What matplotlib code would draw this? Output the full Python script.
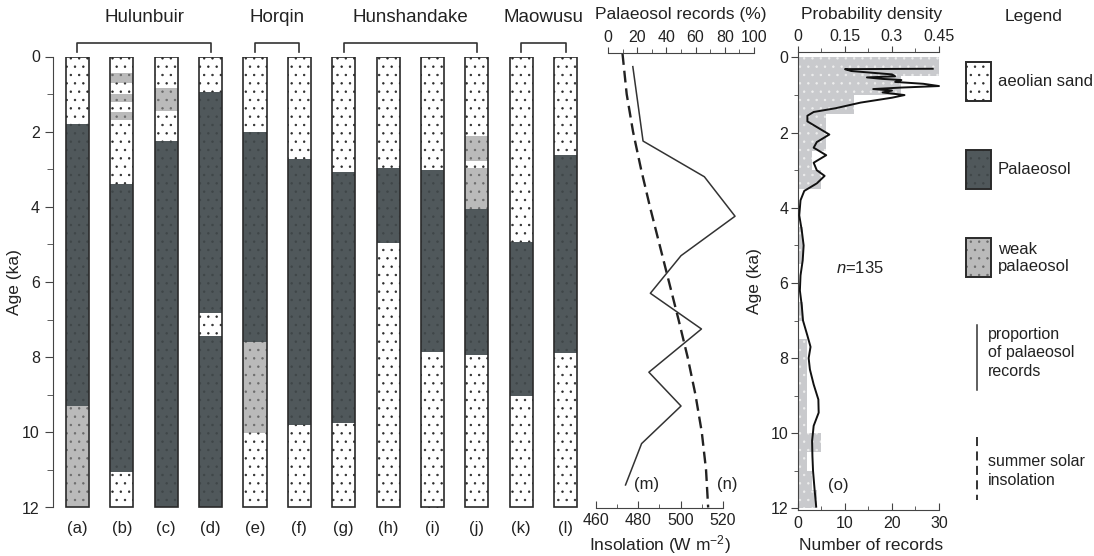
import numpy as np
import matplotlib
matplotlib.use('Agg')
import matplotlib.pyplot as plt
from matplotlib.patches import Rectangle
from matplotlib.lines import Line2D

plt.rcParams['font.family'] = ['Liberation Sans', 'DejaVu Sans']
plt.rcParams['mathtext.fontset'] = 'custom'
plt.rcParams['mathtext.rm'] = 'Liberation Sans'
plt.rcParams['mathtext.it'] = 'Liberation Sans:italic'
plt.rcParams['hatch.linewidth'] = 0.5

# ---- data ----
col_labels = ['(a)', '(b)', '(c)', '(d)', '(e)', '(f)',
              '(g)', '(h)', '(i)', '(j)', '(k)', '(l)']

# each section: (base age in ka, unit) from the top down
sec_a = [(1.8, 'sand'), (9.3, 'soil'), (12, 'weak')]
sec_b = [(0.45, 'sand'), (0.7, 'weak'), (1.0, 'sand'), (1.22, 'weak'),
         (1.48, 'sand'), (1.7, 'weak'), (3.4, 'sand'), (11.05, 'soil'), (12, 'sand')]
sec_c = [(0.85, 'sand'), (1.45, 'weak'), (2.25, 'sand'), (12, 'soil')]
sec_d = [(0.95, 'sand'), (6.82, 'soil'), (7.45, 'sand'), (12, 'soil')]
sec_e = [(2.0, 'sand'), (7.6, 'soil'), (10.03, 'weak'), (12, 'sand')]
sec_f = [(2.72, 'sand'), (9.8, 'soil'), (12, 'sand')]
sec_g = [(3.06, 'sand'), (9.74, 'soil'), (12, 'sand')]
sec_h = [(2.96, 'sand'), (4.97, 'soil'), (12, 'sand')]
sec_i = [(3.03, 'sand'), (7.85, 'soil'), (12, 'sand')]
sec_j = [(2.12, 'sand'), (2.78, 'weak'), (2.98, 'sand'), (4.07, 'weak'),
         (7.95, 'soil'), (12, 'sand')]
sec_k = [(4.94, 'sand'), (9.04, 'soil'), (12, 'sand')]
sec_l = [(2.62, 'sand'), (7.9, 'soil'), (12, 'sand')]
sections = [sec_a, sec_b, sec_c, sec_d, sec_e, sec_f,
            sec_g, sec_h, sec_i, sec_j, sec_k, sec_l]

group_names = ['Hulunbuir', 'Horqin', 'Hunshandake', 'Maowusu']
group_first = [0, 4, 6, 10]
group_last = [3, 5, 9, 11]

# proportion of palaeosol records (%)
pal_age = [0.27, 2.25, 3.2, 4.25, 5.3, 6.3, 7.25, 8.4, 9.3, 10.3, 11.4]
pal_pct = [17, 24, 66, 87, 50, 29, 64, 28, 50, 23, 12]

# summer solar insolation (W m-2)
ins_age = [-0.09, 1, 2, 3, 4, 5, 6, 7, 8, 9, 10, 11, 12]
ins_val = [472.5, 474.5, 477.5, 481.3, 485.5, 490, 494.5, 499, 503.3, 507, 510, 512, 513]

# histogram of records, 0.5 ka bins
hist_top = np.arange(0, 12, 0.5)
hist_cnt = [30, 22, 12, 6, 6, 3, 5, 0, 0, 1, 1, 0,
            0, 1, 0, 2, 2, 2, 2, 2, 5, 2, 3, 4]

# probability density
pdf_age = [0.30, 0.31, 0.36, 0.45, 0.50, 0.53, 0.57, 0.60, 0.65, 0.70, 0.76, 0.80,
           0.84, 0.88, 0.93, 1.00, 1.07, 1.20, 1.35, 1.45, 1.55, 1.70, 1.85, 2.05,
           2.25, 2.40, 2.60, 2.80, 3.00, 3.15, 3.35, 3.55, 3.80, 4.20, 4.60, 5.00,
           5.40, 5.80, 6.20, 6.60, 7.00, 7.40, 7.70, 8.00, 8.30, 8.70, 9.10, 9.45,
           9.80, 10.20, 10.60, 11.00, 11.50, 11.95]
pdf_val = [0.43, 0.15, 0.17, 0.30, 0.31, 0.22, 0.27, 0.33, 0.31, 0.40, 0.45, 0.33,
           0.24, 0.30, 0.27, 0.34, 0.30, 0.20, 0.12, 0.05, 0.03, 0.03, 0.06, 0.10,
           0.06, 0.05, 0.09, 0.05, 0.06, 0.085, 0.06, 0.02, 0.008, 0.004, 0.012, 0.018,
           0.015, 0.008, 0.006, 0.012, 0.016, 0.03, 0.04, 0.034, 0.038, 0.05, 0.065, 0.066,
           0.05, 0.045, 0.046, 0.048, 0.053, 0.058]

# ---- styles ----
face = {'sand': 'white', 'soil': '#50585b', 'weak': '#bababa'}
dots = {'sand': '#2a2a2a', 'soil': '#3f4648', 'weak': '#6a6a6a'}
edge = '#2a2a2a'
txt = '#222222'

W, H = 1094, 556


def box(l, t, r, b):
    return [l / W, 1 - b / H, (r - l) / W, (b - t) / H]


fig = plt.figure(figsize=(W / 100, H / 100), dpi=100)

# ---- stratigraphic columns ----
ax_l = fig.add_axes(box(53, 56.5, 590, 507.5))
ax_l.patch.set_visible(False)
ax_l.set_xlim(-0.552, 11.55)
ax_l.set_ylim(12, 0)
cw = 0.52
for i, sec in enumerate(sections):
    top = 0
    for base, unit in sec:
        ax_l.add_patch(Rectangle((i - cw / 2, top), cw, base - top, facecolor=face[unit],
                                 edgecolor=dots[unit], lw=0, hatch='..'))
        top = base
    ax_l.add_patch(Rectangle((i - cw / 2, 0), cw, 12, fill=False, edgecolor=edge, lw=1.2))
    ax_l.text(i, 12.55, col_labels[i], ha='center', va='center', fontsize=12, color=txt)

for name, a, b in zip(group_names, group_first, group_last):
    ax_l.plot([a, a, b, b], [-0.12, -0.35, -0.35, -0.12], color='#333333', lw=1.2, clip_on=False)
    ax_l.text((a + b) / 2, -1.05, name, ha='center', va='center', fontsize=13.5, color=txt)

for s in ['top', 'right', 'bottom']:
    ax_l.spines[s].set_visible(False)
ax_l.spines['left'].set_bounds(0, 12)
ax_l.spines['left'].set_color('#444444')
ax_l.set_xticks([])
ax_l.set_yticks(range(0, 13, 2))
ax_l.set_yticks(range(1, 12, 2), minor=True)
ax_l.tick_params(axis='y', which='major', direction='out', length=6, labelsize=11.5,
                 colors='#444444', labelcolor=txt)
ax_l.tick_params(axis='y', which='minor', direction='out', length=4, colors='#444444')
ax_l.set_ylabel('Age (ka)', fontsize=12.5, color=txt)
ax_l.yaxis.set_label_coords(-0.058, 0.5)

# ---- palaeosol proportion and insolation ----
ax_m = fig.add_axes(box(580, 53, 760, 507.5))
ax_m.patch.set_visible(False)
ax_m.set_xlim(452.44, 537.5)
ax_m.set_ylim(12, -0.093)
ax_m.plot(ins_val, ins_age, color='#222222', lw=1.7, ls=(0, (5, 2.5)))
ax_p = ax_m.twiny()
ax_p.set_xlim(-19.18, 104.1)
ax_p.plot(pal_pct, pal_age, color='#333333', lw=1.1)
ax_p.text(26.7, 11.4, '(m)', ha='center', va='center', fontsize=12, color=txt)
ax_p.text(82, 11.4, '(n)', ha='center', va='center', fontsize=12, color=txt)

for s in ['left', 'right', 'top']:
    ax_m.spines[s].set_visible(False)
for s in ['left', 'right', 'bottom']:
    ax_p.spines[s].set_visible(False)
ax_m.spines['bottom'].set_bounds(460, 520)
ax_p.spines['top'].set_bounds(0, 100)
ax_m.spines['bottom'].set_color('#444444')
ax_p.spines['top'].set_color('#444444')
ax_m.tick_params(axis='y', left=False, labelleft=False)
ax_m.set_xticks([460, 480, 500, 520])
ax_m.set_xticks([470, 490, 510], minor=True)
ax_m.tick_params(axis='x', which='major', direction='in', length=5, labelsize=11.5,
                 colors='#444444', labelcolor=txt, pad=4)
ax_m.tick_params(axis='x', which='minor', direction='in', length=3, colors='#444444')
ax_p.set_xticks(range(0, 101, 20))
ax_p.set_xticks(range(10, 100, 20), minor=True)
ax_p.tick_params(axis='x', which='major', direction='out', length=4, labelsize=11.5,
                 colors='#444444', labelcolor=txt, pad=2)
ax_p.tick_params(axis='x', which='minor', direction='out', length=3, colors='#444444')

# ---- records histogram and probability density ----
ax_r = fig.add_axes(box(798, 52, 945, 510))
ax_r.patch.set_visible(False)
ax_r.set_xlim(0, 31.28)
ax_r.set_ylim(12.04, -0.146)
ax_r.barh(hist_top, hist_cnt, height=0.5, align='edge', color='#c9cacd',
          edgecolor='#eeeeee', lw=0, hatch='..')
ax_r.text(13.2, 5.6, '$n$=135', ha='center', va='center', fontsize=12, color=txt)
ax_r.text(8.6, 11.4, '(o)', ha='center', va='center', fontsize=12, color=txt)
ax_d = ax_r.twiny()
ax_d.set_xlim(0, 31.28 * 0.015)
ax_d.plot(pdf_val, pdf_age, color='#111111', lw=1.4)

for s in ['right', 'top']:
    ax_r.spines[s].set_visible(False)
for s in ['left', 'right', 'bottom']:
    ax_d.spines[s].set_visible(False)
ax_r.spines['bottom'].set_bounds(0, 30)
ax_d.spines['top'].set_bounds(0, 0.45)
for sp in [ax_r.spines['left'], ax_r.spines['bottom'], ax_d.spines['top']]:
    sp.set_color('#444444')
ax_r.set_yticks(range(0, 13, 2))
ax_r.set_yticks(range(1, 12, 2), minor=True)
ax_r.tick_params(axis='y', which='major', direction='out', length=5, labelsize=11.5,
                 colors='#444444', labelcolor=txt, pad=2)
ax_r.tick_params(axis='y', which='minor', direction='out', length=3, colors='#444444')
ax_r.set_ylabel('Age (ka)', fontsize=12.5, color=txt)
ax_r.yaxis.set_label_coords(-0.245, 0.5)
ax_r.set_xticks([0, 10, 20, 30])
ax_r.set_xticks([5, 15, 25], minor=True)
ax_r.tick_params(axis='x', which='major', direction='in', length=5, labelsize=11.5,
                 colors='#444444', labelcolor=txt, pad=4)
ax_r.tick_params(axis='x', which='minor', direction='in', length=3, colors='#444444')
ax_d.set_xticks([0, 0.15, 0.3, 0.45])
ax_d.set_xticklabels(['0', '0.15', '0.3', '0.45'])
ax_d.set_xticks([0.075, 0.225, 0.375], minor=True)
ax_d.tick_params(axis='x', which='major', direction='out', length=4, labelsize=11.5,
                 colors='#444444', labelcolor=txt, pad=2)
ax_d.tick_params(axis='x', which='minor', direction='out', length=3, colors='#444444')

# ---- titles and legend on an overlay ----
ax_g = fig.add_axes([0, 0, 1, 1])
ax_g.set_xlim(0, W)
ax_g.set_ylim(H, 0)
ax_g.axis('off')
ax_g.patch.set_visible(False)
ax_g.text(681, 15, 'Palaeosol records (%)', ha='center', va='center', fontsize=12.5, color=txt)
ax_g.text(660, 545, 'Insolation (W m$^{-2}$)', ha='center', va='center', fontsize=12.5, color=txt)
ax_g.text(872, 15, 'Probability density', ha='center', va='center', fontsize=12.5, color=txt)
ax_g.text(871, 545, 'Number of records', ha='center', va='center', fontsize=12.5, color=txt)
ax_g.text(1034, 17, 'Legend', ha='center', va='center', fontsize=12.5, color=txt)

leg_units = ['sand', 'soil', 'weak']
leg_text = ['aeolian sand', 'Palaeosol', 'weak\npalaeosol']
leg_top = [62, 150, 238]
for unit, label, t in zip(leg_units, leg_text, leg_top):
    ax_g.add_patch(Rectangle((966, t), 25, 39, facecolor=face[unit], edgecolor=dots[unit],
                             lw=0, hatch='..'))
    ax_g.add_patch(Rectangle((966, t), 25, 39, fill=False, edgecolor=edge, lw=1.4))
    ax_g.text(998, t + 20, label, ha='left', va='center', fontsize=12, color=txt,
              linespacing=1.25)
ax_g.add_line(Line2D([977, 977], [325, 390], color='#333333', lw=1.1))
ax_g.add_line(Line2D([977, 977], [437, 500], color='#222222', lw=1.3, ls=(0, (5, 3))))
ax_g.text(988, 353, 'proportion\nof palaeosol\nrecords', ha='left', va='center',
          fontsize=11.5, color=txt, linespacing=1.3)
ax_g.text(988, 471, 'summer solar\ninsolation', ha='left', va='center',
          fontsize=11.5, color=txt, linespacing=1.3)

fig.savefig('out.png', dpi=100)
